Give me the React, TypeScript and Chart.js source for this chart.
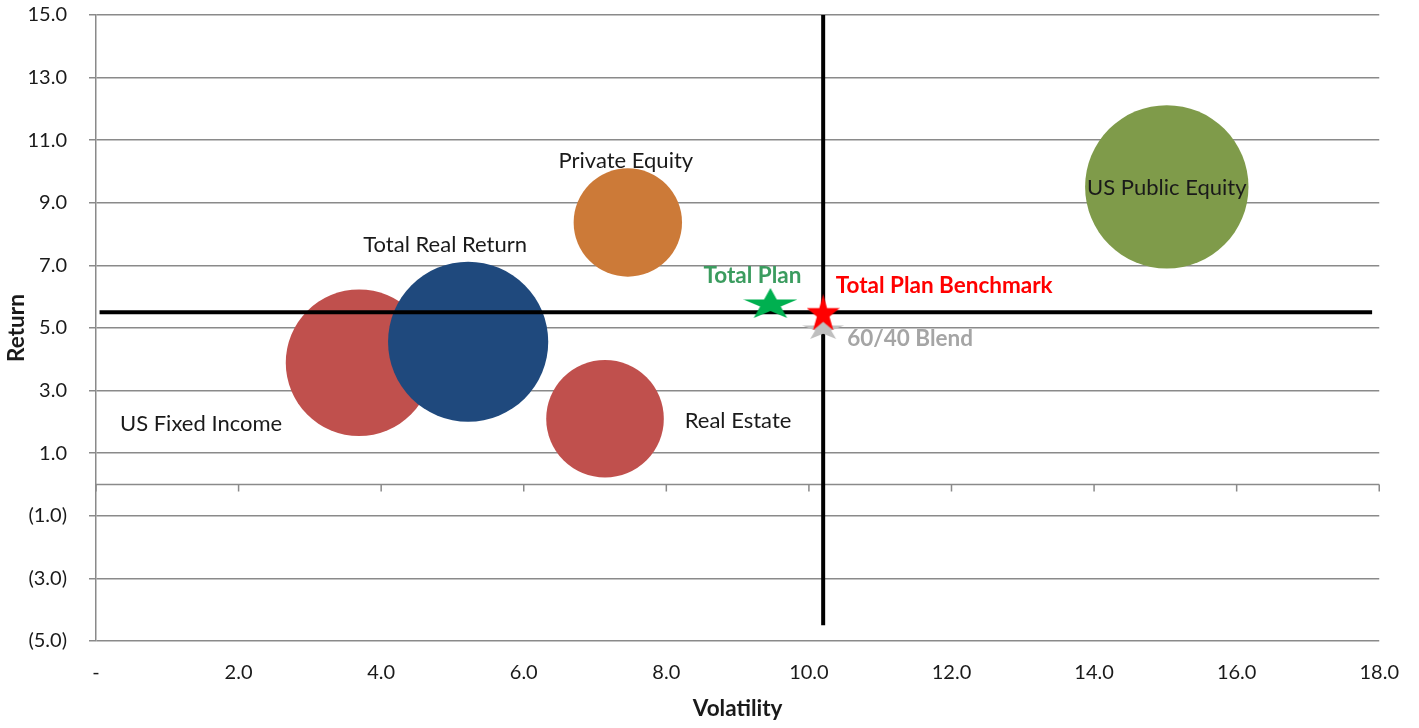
import { useEffect, useRef } from 'react';
import { Chart, registerables } from 'chart.js';

Chart.register(...registerables);

// Asset classes: volatility (x), return (y) and relative size of each bubble
const assetNames = ['US Fixed Income', 'Total Real Return', 'Real Estate', 'Private Equity', 'US Public Equity'];
const assetVolatility = [3.69, 5.22, 7.14, 7.46, 15.02];
const assetReturn = [3.89, 4.56, 2.1, 8.37, 9.51];
const assetWeight = [80.5, 96.1, 51.8, 44.0, 100];

// Plan-level points drawn as stars
const planNames = ['Total Plan', 'Total Plan Benchmark', '60/40 Blend'];
const planVolatility = [9.46, 10.2, 10.2];
const planReturn = [5.8, 5.5, 5.0];

// Benchmark crosshair extents
const crossXRange = [0.05, 17.9];
const crossYRange = [-4.5, 15];

// Axis ticks
const xTickValues = [0, 2, 4, 6, 8, 10, 12, 14, 16, 18];
const yTickValues = [-5, -3, -1, 1, 3, 5, 7, 9, 11, 13, 15];

const FONT = 'Lato, "Open Sans", sans-serif';
const GRID = '#8a8a8a';
const TEXT = '#1a1a1a';
const MAX_BUBBLE_RADIUS = 81.7;

const assetColors = ['#C0504D', '#1F497D', '#C0504D', '#CC7A38', '#7F9B4A'];
const assetLabelStyle = [
  { dx: -158, dy: 61, align: 'center' },
  { dx: -23, dy: -97, align: 'center' },
  { dx: 133, dy: 2, align: 'center' },
  { dx: -2, dy: -62, align: 'center' },
  { dx: 0, dy: 1, align: 'center' },
];

const planStars = [
  { color: '#00B050', w: 54, h: 30 },
  { color: '#FF0000', w: 33, h: 36 },
  { color: '#BFBFBF', w: 42, h: 22 },
];
const planLabelStyle = [
  { dx: -18, dy: -28, align: 'center', color: '#3B9C5F' },
  { dx: 12.5, dy: -28, align: 'left', color: '#FF0000' },
  { dx: 24, dy: 9.5, align: 'left', color: '#A5A5A5' },
];

function makeStar(w: number, h: number, color: string): HTMLCanvasElement {
  const c = document.createElement('canvas');
  c.width = w;
  c.height = h;
  const ctx = c.getContext('2d')!;
  const outer = 1;
  const inner = 0.382;
  ctx.translate(w / 2, h / 1.809);
  ctx.scale(w / 1.902, h / 1.809);
  ctx.beginPath();
  for (let i = 0; i < 10; i++) {
    const rad = i % 2 === 0 ? outer : inner;
    const a = -Math.PI / 2 + (i * Math.PI) / 5;
    const px = rad * Math.cos(a);
    const py = rad * Math.sin(a);
    if (i === 0) ctx.moveTo(px, py);
    else ctx.lineTo(px, py);
  }
  ctx.closePath();
  ctx.fillStyle = color;
  ctx.fill();
  return c;
}

function fmtReturn(v: number): string {
  if (v < 0) return `(${Math.abs(v).toFixed(1)})`;
  return v.toFixed(1);
}

const zeroAxisPlugin = {
  id: 'zeroAxis',
  beforeDatasetsDraw(chart: any) {
    const { ctx, chartArea, scales } = chart;
    const x = scales.x;
    const y0 = scales.y.getPixelForValue(0);
    ctx.save();
    ctx.strokeStyle = GRID;
    ctx.lineWidth = 1.5;
    ctx.beginPath();
    ctx.moveTo(chartArea.left, y0);
    ctx.lineTo(chartArea.right, y0);
    x.ticks.forEach((t: any) => {
      const px = x.getPixelForValue(t.value);
      ctx.moveTo(px, y0);
      ctx.lineTo(px, y0 + 7);
    });
    ctx.stroke();
    ctx.restore();
  },
};

const pointLabelPlugin = {
  id: 'pointLabels',
  afterDatasetsDraw(chart: any) {
    const { ctx, scales } = chart;
    const { x, y } = scales;
    ctx.save();
    ctx.textBaseline = 'alphabetic';

    ctx.font = `400 22px ${FONT}`;
    ctx.fillStyle = TEXT;
    const capA = ctx.measureText('H').actualBoundingBoxAscent;
    assetNames.forEach((name, i) => {
      const s = assetLabelStyle[i];
      const px = x.getPixelForValue(assetVolatility[i]) + s.dx;
      const py = y.getPixelForValue(assetReturn[i]) + s.dy;
      ctx.textAlign = s.align;
      ctx.fillText(name, px, py + capA / 2);
    });

    ctx.font = `700 22.5px ${FONT}`;
    const capB = ctx.measureText('H').actualBoundingBoxAscent;
    planNames.forEach((name, i) => {
      const s = planLabelStyle[i];
      const px = x.getPixelForValue(planVolatility[i]) + s.dx;
      const py = y.getPixelForValue(planReturn[i]) + s.dy;
      ctx.textAlign = s.align;
      ctx.fillStyle = s.color;
      ctx.fillText(name, px, py + capB / 2);
    });
    ctx.restore();
  },
};

export default function App() {
  const canvasRef = useRef<HTMLCanvasElement | null>(null);

  useEffect(() => {
    if (!canvasRef.current) return;
    const maxWeight = Math.max(...assetWeight);

    const bubbleData = assetNames.map((_, i) => ({
      x: assetVolatility[i],
      y: assetReturn[i],
      r: MAX_BUBBLE_RADIUS * Math.sqrt(assetWeight[i] / maxWeight),
    }));

    const starDatasets = planNames.map((name, i) => ({
      type: 'scatter' as const,
      label: name,
      data: [{ x: planVolatility[i], y: planReturn[i] }],
      pointStyle: makeStar(planStars[i].w, planStars[i].h, planStars[i].color),
      pointRadius: 10,
      order: i === 1 ? 0 : 1,
    }));

    const bx = planVolatility[1];
    const by = planReturn[1];

    const chart = new Chart(canvasRef.current, {
      type: 'bubble',
      data: {
        datasets: [
          ...starDatasets,
          {
            type: 'scatter',
            label: 'benchmark-h',
            data: [
              { x: crossXRange[0], y: by },
              { x: crossXRange[1], y: by },
            ],
            showLine: true,
            borderColor: '#000000',
            borderWidth: 4,
            pointRadius: 0,
            order: 2,
          },
          {
            type: 'scatter',
            label: 'benchmark-v',
            data: [
              { x: bx, y: crossYRange[0] },
              { x: bx, y: crossYRange[1] },
            ],
            showLine: true,
            borderColor: '#000000',
            borderWidth: 4,
            pointRadius: 0,
            order: 2,
          },
          {
            type: 'bubble',
            label: 'Asset classes',
            data: bubbleData,
            backgroundColor: assetColors,
            borderWidth: 0,
            order: 3,
          },
        ] as any,
      },
      options: {
        responsive: false,
        animation: false,
        events: [],
        layout: { autoPadding: false, padding: { top: 15, right: 39, left: 0, bottom: 0 } },
        plugins: {
          legend: { display: false },
          tooltip: { enabled: false },
        },
        scales: {
          x: {
            type: 'linear',
            position: 'bottom',
            min: 0,
            max: 18,
            afterBuildTicks: (scale: any) => {
              scale.ticks = xTickValues.map((v) => ({ value: v }));
            },
            afterFit: (scale: any) => {
              scale.height = 87;
              scale.paddingTop = 0;
              scale.paddingBottom = 0;
            },
            grid: { display: false, drawTicks: false },
            border: { display: false },
            ticks: {
              padding: 20,
              color: TEXT,
              font: { family: FONT, size: 20 },
              maxRotation: 0,
              callback: (v: any) => (Number(v) === 0 ? '-' : Number(v).toFixed(1)),
            },
            title: {
              display: true,
              text: 'Volatility',
              color: TEXT,
              font: { family: FONT, size: 22.5, weight: 'bold' },
              padding: { top: 0, bottom: 6 },
            },
          },
          y: {
            type: 'linear',
            min: -5,
            max: 15,
            afterBuildTicks: (scale: any) => {
              scale.ticks = yTickValues.map((v) => ({ value: v }));
            },
            afterFit: (scale: any) => {
              scale.width = 96;
              scale.paddingTop = 0;
              scale.paddingBottom = 0;
            },
            grid: {
              color: GRID,
              lineWidth: 1.5,
              drawTicks: true,
              tickLength: 7,
              tickColor: GRID,
            },
            border: { display: true, color: GRID, width: 1.5 },
            ticks: {
              padding: 22,
              color: TEXT,
              font: { family: FONT, size: 20 },
              callback: (v: any) => fmtReturn(Number(v)),
            },
            title: {
              display: true,
              text: 'Return',
              color: TEXT,
              font: { family: FONT, size: 22.5, weight: 'bold' },
              padding: { top: 3, bottom: 0 },
            },
          },
        },
      } as any,
      plugins: [zeroAxisPlugin, pointLabelPlugin],
    });

    return () => chart.destroy();
  }, []);

  return (
    <div style={{ position: 'fixed', left: 0, top: 0, width: 1419, height: 728, background: '#ffffff' }}>
      <canvas ref={canvasRef} width={1419} height={728} style={{ display: 'block' }} />
    </div>
  );
}
